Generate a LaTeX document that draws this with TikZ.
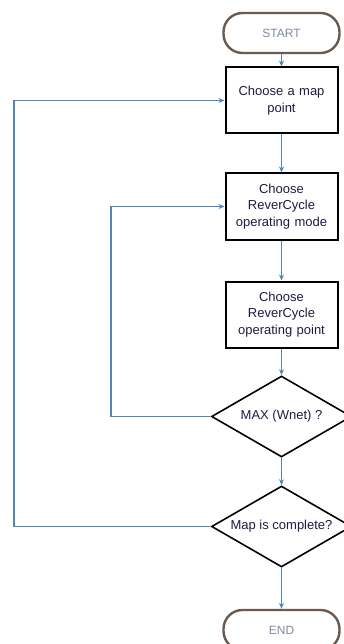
\documentclass[tikz,border=0pt]{standalone}
\usepackage{fontspec}
\setmainfont{Liberation Sans}
\usetikzlibrary{shapes.geometric,arrows.meta}
\definecolor{conn}{HTML}{4F86B6}
\definecolor{term}{HTML}{6B5A50}
\definecolor{termtxt}{HTML}{7D8AA0}
\definecolor{boxtxt}{HTML}{1C1C40}
\tikzset{
  terminal/.style={draw=term, line width=2.4pt, rounded corners=19pt, minimum width=116pt, minimum height=40pt, text=termtxt, font=\fontsize{12}{14}\selectfont, inner sep=0pt},
  procbox/.style={draw=black, line width=2pt, minimum width=112pt, minimum height=66pt, text=boxtxt, font=\fontsize{13}{16.7}\selectfont, align=center, text width=108pt, inner sep=0pt},
  decision/.style={draw=black, line width=1.6pt, diamond, aspect=1.7, minimum width=140pt, minimum height=81pt, text=boxtxt, font=\fontsize{13}{16}\selectfont, inner sep=0pt},
  conn/.style={draw=conn, line width=1.5pt, -{Stealth[length=6pt,width=5pt]}},
}
\begin{document}
\begin{tikzpicture}[x=1pt,y=-1pt]
\useasboundingbox (0,0) rectangle (344,644);
\node[terminal] (start) at (281.5,33) {START};
\node[procbox] (b1) at (281.5,100.5) {Choose a map\\point};
\node[procbox] (b2) at (281.5,206.5) {Choose\\ReverCycle\\operating mode};
\node[procbox] (b3) at (281.5,314.5) {Choose\\ReverCycle\\operating point};
\node[decision] (d1) at (281.5,416.5) {MAX (Wnet) ?};
\node[decision] (d2) at (281.5,526.5) {Map is complete?};
\node[terminal] (end) at (281.5,630) {END};
\coordinate (l1) at (111,416.5);
\coordinate (l2) at (14,526.5);
\draw[conn] (start.south) -- (b1.north);
\draw[conn] (b1.south) -- (b2.north);
\draw[conn] (b2.south) -- (b3.north);
\draw[conn] (b3.south) -- (d1.north);
\draw[conn] (d1.south) -- (d2.north);
\draw[conn] (d2.south) -- (end.north);
\draw[conn] (d1.west) -- (l1) |- (b2.west);
\draw[conn] (d2.west) -- (l2) |- (b1.west);
\end{tikzpicture}
\end{document}
